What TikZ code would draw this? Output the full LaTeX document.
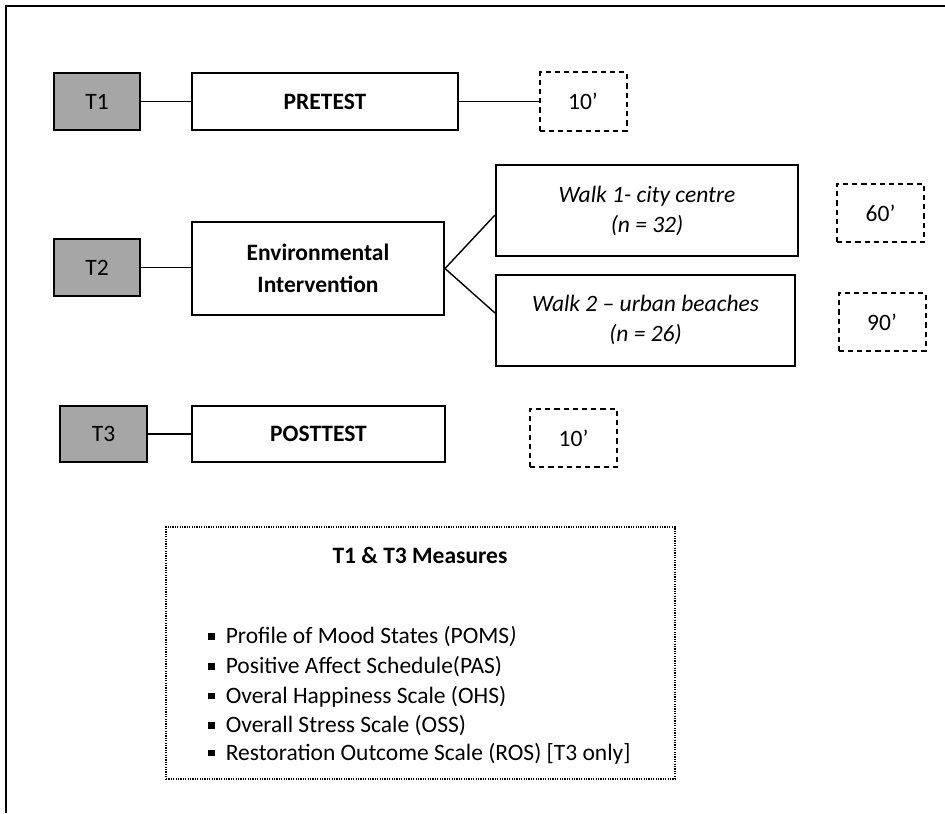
\documentclass[tikz,border=0pt]{standalone}
\usepackage{fontspec}
\setmainfont{Carlito}
\usetikzlibrary{calc}

\definecolor{tgray}{RGB}{166,166,166}
\newcommand{\sqbullet}{\raisebox{0.18em}{\rule{0.27em}{0.27em}}\hspace{0.47em}}

\tikzset{
  base/.style={font=\fontsize{11.75}{14.5}\selectfont, align=center, inner sep=0pt},
  timebox/.style={base, draw, line width=1pt, fill=tgray, minimum width=43pt, minimum height=28.5pt},
  stagebox/.style={base, draw, line width=1pt, fill=white},
  durbox/.style={base, draw, line width=1pt, dash pattern=on 2.6pt off 2pt, minimum width=43.5pt, minimum height=29pt},
  link/.style={line width=0.7pt},
  frame/.style={line width=1.1pt},
  listitem/.style={base, anchor=west, align=left},
}

\begin{document}
\begin{tikzpicture}[x=0.5pt,y=-0.5pt]
\useasboundingbox (0,0) rectangle (945,813);

% page frame (top and left edges)
\draw[frame] (6,813) -- (6,6) -- (945,6);

% row 1: pretest
\node[timebox] (t1) at (97,101.5) {T1};
\node[stagebox, minimum width=133pt, minimum height=28.5pt, font=\fontsize{11.75}{14.5}\selectfont\bfseries] (pre) at (325,101.5) {PRETEST};
\node[durbox] (d1) at (583,101.5) {10’};
\draw[link] (t1) -- (pre);
\draw[link] (pre) -- (d1);

% row 2: intervention and the two walks
\node[timebox] (t2) at (97,267.5) {T2};
\node[stagebox, minimum width=126pt, minimum height=46.5pt, font=\fontsize{11.75}{16}\selectfont\bfseries] (env) at (318,268.5) {Environmental\\Intervention};
\node[stagebox, minimum width=151pt, minimum height=45.5pt, font=\fontsize{11.75}{15}\selectfont\itshape] (w1) at (647,210.5) {Walk 1- city centre\\(n = 32)};
\node[stagebox, minimum width=149.5pt, minimum height=45.5pt, font=\fontsize{11.75}{15}\selectfont\itshape] (w2) at (645.5,320) {Walk 2 – urban beaches\\(n = 26)};
\node[durbox] (d60) at (880.5,213) {60’};
\node[durbox] (d90) at (882,322) {90’};
\draw[link] (t2) -- (t2 -| env.west);
\draw[link] ([yshift=-2.25pt]w1.west) -- (env.east) -- ([yshift=3.5pt]w2.west);

% row 3: posttest
\node[timebox, minimum width=43.5pt, minimum height=28pt] (t3) at (103.5,434) {T3};
\node[stagebox, minimum width=126.5pt, minimum height=28pt, font=\fontsize{11.75}{14.5}\selectfont\bfseries] (post) at (318.5,434) {POSTTEST};
\node[durbox] (d3) at (573.5,438) {10’};
\draw[link] (t3) -- (post);

% measures taken at T1 and T3
\node[draw, line width=0.6pt, dash pattern=on 0.6pt off 0.6pt, minimum width=254.5pt, minimum height=126pt, inner sep=0pt] (meas) at (420.5,653) {};
\node[base, font=\fontsize{11.75}{14.5}\selectfont\bfseries] (mtitle) at (420,555) {T1 \& T3 Measures};
\node[listitem] (m1) at (208,637) {\sqbullet Profile of Mood States (POMS\textit{)}};
\node[listitem] (m2) at (208,667) {\sqbullet Positive Affect Schedule(PAS)};
\node[listitem] (m3) at (208,697) {\sqbullet Overal Happiness Scale (OHS)};
\node[listitem] (m4) at (208,726) {\sqbullet Overall Stress Scale (OSS)};
\node[listitem] (m5) at (208,754) {\sqbullet Restoration Outcome Scale (ROS) [T3 only]};
\end{tikzpicture}
\end{document}
